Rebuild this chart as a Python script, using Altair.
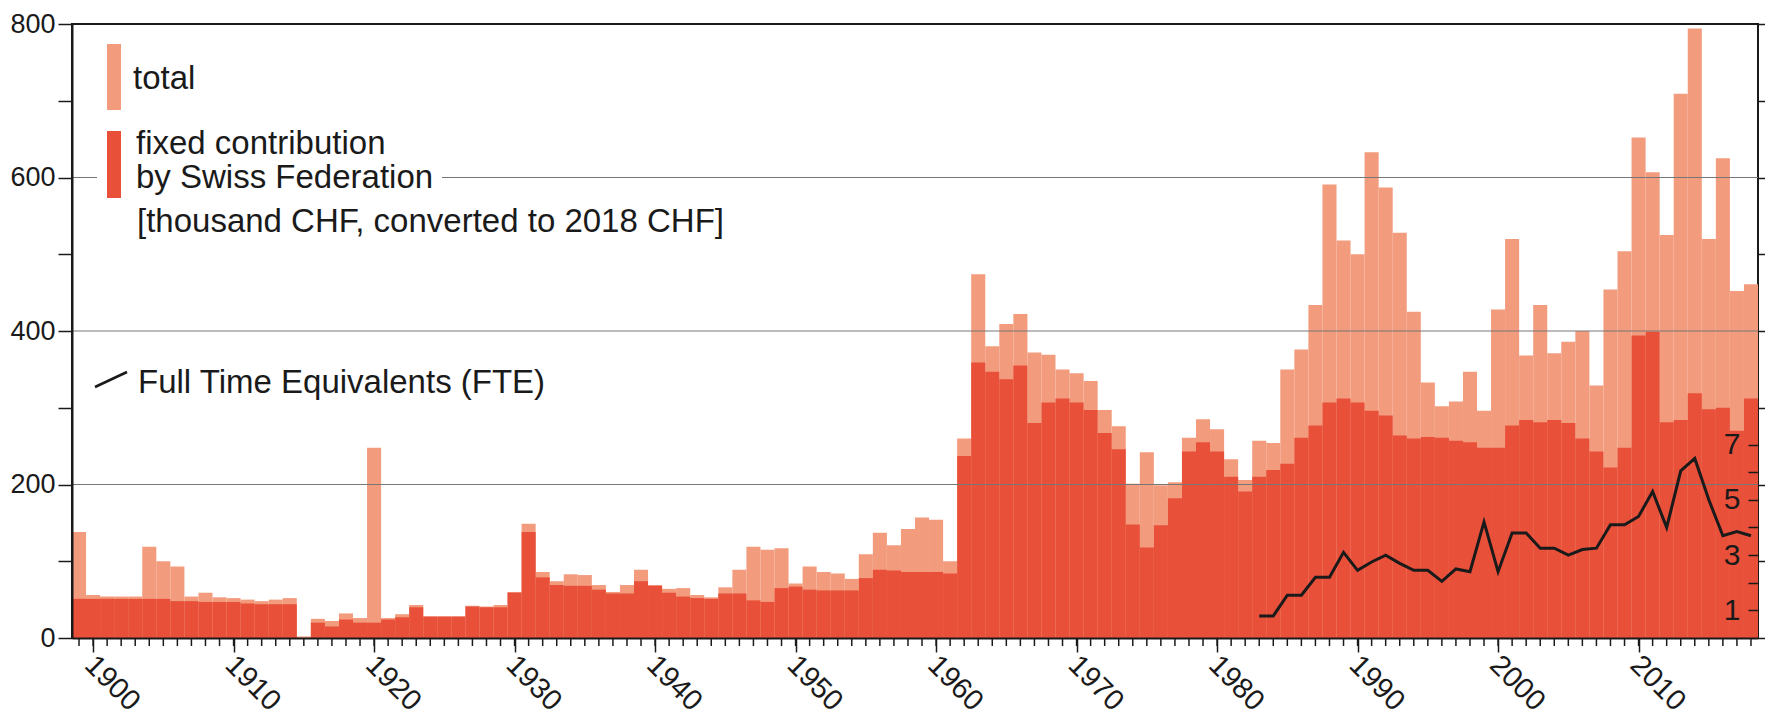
import altair as alt
import pandas as pd

FONT = "Liberation Sans"
LIGHT = "#F39B7D"
DARK = "#E8503A"
INK = "#1a1a1a"

years = list(range(1899, 2019))
total = [
    138, 56, 54, 54, 54, 119, 100, 93, 54, 59,      # 1899-1908
    53, 52, 50, 48, 50, 52, 2, 25, 22, 32,           # 1909-1918
    26, 248, 26, 31, 43, 28, 28, 28, 42, 41,         # 1919-1928
    43, 60, 149, 86, 74, 83, 82, 69, 60, 69,         # 1929-1938
    89, 69, 64, 65, 56, 53, 66, 89, 119, 115,        # 1939-1948
    117, 71, 93, 86, 84, 77, 109, 137, 121, 142,     # 1949-1958
    157, 154, 100, 260, 474, 380, 409, 422, 372, 369,  # 1959-1968
    350, 345, 335, 297, 276, 201, 242, 199, 203, 261,  # 1969-1978
    285, 272, 233, 206, 257, 254, 350, 376, 434, 591,  # 1979-1988
    518, 500, 633, 587, 528, 425, 333, 302, 308, 347,  # 1989-1998
    296, 428, 520, 368, 434, 371, 386, 400, 329, 454,  # 1999-2008
    504, 652, 607, 525, 709, 794, 520, 625, 452, 461,  # 2009-2018
]
fixed = [
    51, 51, 51, 51, 51, 51, 51, 48, 48, 47,
    47, 47, 45, 44, 44, 44, 0, 20, 15, 24,
    20, 20, 24, 27, 40, 28, 28, 28, 41, 40,
    40, 59, 138, 79, 69, 68, 68, 63, 58, 58,
    74, 68, 59, 54, 52, 51, 58, 58, 49, 47,
    65, 67, 63, 62, 62, 62, 78, 89, 88, 86,
    86, 86, 84, 237, 359, 347, 337, 355, 280, 307,
    312, 307, 297, 267, 246, 148, 118, 147, 182, 243,
    255, 243, 210, 191, 210, 219, 227, 261, 277, 307,
    312, 307, 296, 290, 264, 260, 262, 261, 257, 255,
    248, 248, 277, 284, 281, 284, 280, 260, 243, 222,
    248, 394, 399, 281, 284, 319, 298, 300, 270, 312,
]
fte_years = list(range(1983, 2019))
fte = [
    0.8, 0.8, 1.55, 1.55, 2.2, 2.2, 3.1, 2.45, 2.75, 3.0,
    2.7, 2.45, 2.45, 2.05, 2.5, 2.4, 4.2, 2.4, 3.8, 3.8,
    3.25, 3.25, 3.0, 3.2, 3.25, 4.1, 4.1, 4.4, 5.3, 4.0,
    6.05, 6.5, 5.0, 3.7, 3.85, 3.7,
]

y_ticks = [0, 100, 200, 300, 400, 500, 600, 700, 800]
y_grid = [200, 400, 600]
x_ticks = [1900, 1910, 1920, 1930, 1940, 1950, 1960, 1970, 1980, 1990, 2000, 2010]
fte_ticks = [1, 2, 3, 4, 5, 6, 7]
CHF_PER_FTE = 36  # 1 FTE on the right axis corresponds to 36 thousand CHF

W, H = 1686, 614

df = pd.DataFrame({"year": years, "total": total, "fixed": fixed})
fte_df = pd.DataFrame({"year": fte_years, "fte": fte})
one = pd.DataFrame({"k": [0]})

xscale = alt.Scale(domain=[1898.5, 2018.5], nice=False, zero=False)
xaxis = alt.Axis(
    values=x_ticks, format="d", title=None, labelAngle=45, labelAlign="left",
    labelBaseline="top", labelFontSize=29, labelFont=FONT, labelColor=INK,
    tickSize=14, tickWidth=1.5, tickColor=INK, domainColor=INK, domainWidth=2,
    labelPadding=-2, labelOffset=6, grid=False, zindex=1, labelFlush=False,
    labelOverlap=False,
)
yscale = alt.Scale(domain=[0, 800], nice=False, zero=True)
left_axis = alt.Axis(
    values=y_ticks, title=None, labelExpr="datum.value % 200 === 0 ? datum.label : ''",
    labelFontSize=27, labelFont=FONT, labelColor=INK, tickSize=14, tickWidth=1.5,
    tickColor=INK, domainColor=INK, domainWidth=2, labelPadding=3, grid=False,
    zindex=1, orient="left", labelFlush=False, labelOverlap=False,
)
right_axis = alt.Axis(
    values=y_ticks, title=None, labels=False, tickSize=15, tickWidth=1.5,
    tickColor=INK, domain=False, grid=False, orient="right", zindex=1,
)
fte_axis = alt.Axis(
    values=fte_ticks, title=None, orient="left", offset=-W,
    labelExpr="(datum.value === 1 || datum.value === 3 || datum.value === 5 || datum.value === 7) ? datum.label : ''",
    labelFontSize=30, labelFont=FONT, labelColor=INK, tickSize=10, tickWidth=1.5,
    tickColor=INK, domain=False, grid=False, labelPadding=8, zindex=1,
    labelFlush=False, labelOverlap=False,
)

base = alt.Chart(df).transform_calculate(x0="datum.year - 0.5", x1="datum.year + 0.5")

total_bars = base.mark_rect(color=LIGHT).encode(
    x=alt.X("x0:Q", scale=xscale, axis=xaxis), x2="x1:Q",
    y=alt.Y("total:Q", scale=yscale, axis=left_axis), y2=alt.datum(0),
)
fixed_bars = base.mark_rect(color=DARK).encode(
    x=alt.X("x0:Q", scale=xscale, axis=xaxis), x2="x1:Q",
    y=alt.Y("fixed:Q", scale=yscale, axis=None), y2=alt.datum(0),
)
minor_ticks = alt.Chart(df).mark_rule(color=INK, strokeWidth=1.5).encode(
    x=alt.X("year:Q", scale=xscale, axis=xaxis),
    y=alt.value(H), y2=alt.value(H + 8),
)
grid = alt.Chart(pd.DataFrame({"v": y_grid})).mark_rule(color="#777", strokeWidth=1).encode(
    y=alt.Y("v:Q", scale=yscale, axis=right_axis),
)
legend_bg = alt.Chart(one).mark_rect(color="white").encode(
    x=alt.value(25), x2=alt.value(370), y=alt.value(100), y2=alt.value(200)
)
sw_total = alt.Chart(one).mark_rect(color=LIGHT).encode(
    x=alt.value(35), x2=alt.value(49), y=alt.value(20), y2=alt.value(86)
)
sw_fixed = alt.Chart(one).mark_rect(color=DARK).encode(
    x=alt.value(35), x2=alt.value(49), y=alt.value(107), y2=alt.value(174)
)


def label(txt, x, y):
    return alt.Chart(one).mark_text(
        text=txt, align="left", baseline="alphabetic", fontSize=33, font=FONT, color=INK
    ).encode(x=alt.value(x), y=alt.value(y))


t1 = label("total", 61, 65)
t2 = label("fixed contribution", 64, 130)
t3 = label("by Swiss Federation", 64, 164)
t4 = label("[thousand CHF, converted to 2018 CHF]", 65, 208)
t5 = label("Full Time Equivalents (FTE)", 66, 369)
fte_key = alt.Chart(one).mark_rule(color=INK, strokeWidth=2.5).encode(
    x=alt.value(23), y=alt.value(363), x2=alt.value(55), y2=alt.value(348)
)

fte_line = alt.Chart(fte_df).mark_line(color=INK, strokeWidth=3).encode(
    x=alt.X("year:Q", scale=xscale, axis=xaxis),
    y=alt.Y("fte:Q", scale=alt.Scale(domain=[0, 800 / CHF_PER_FTE], nice=False, zero=True),
            axis=fte_axis),
)

chart = alt.layer(
    total_bars, fixed_bars, grid, minor_ticks, legend_bg, sw_total, sw_fixed,
    t1, t2, t3, t4, t5, fte_key, fte_line,
).resolve_scale(y="independent").properties(
    width=W, height=H,
    autosize=alt.AutoSizeParams(type="none"),
    padding={"left": 64, "top": 16, "right": 7, "bottom": 82},
).configure_view(stroke=INK, strokeWidth=2)

chart.save("out.html", embed_options={"renderer": "svg", "actions": False})
